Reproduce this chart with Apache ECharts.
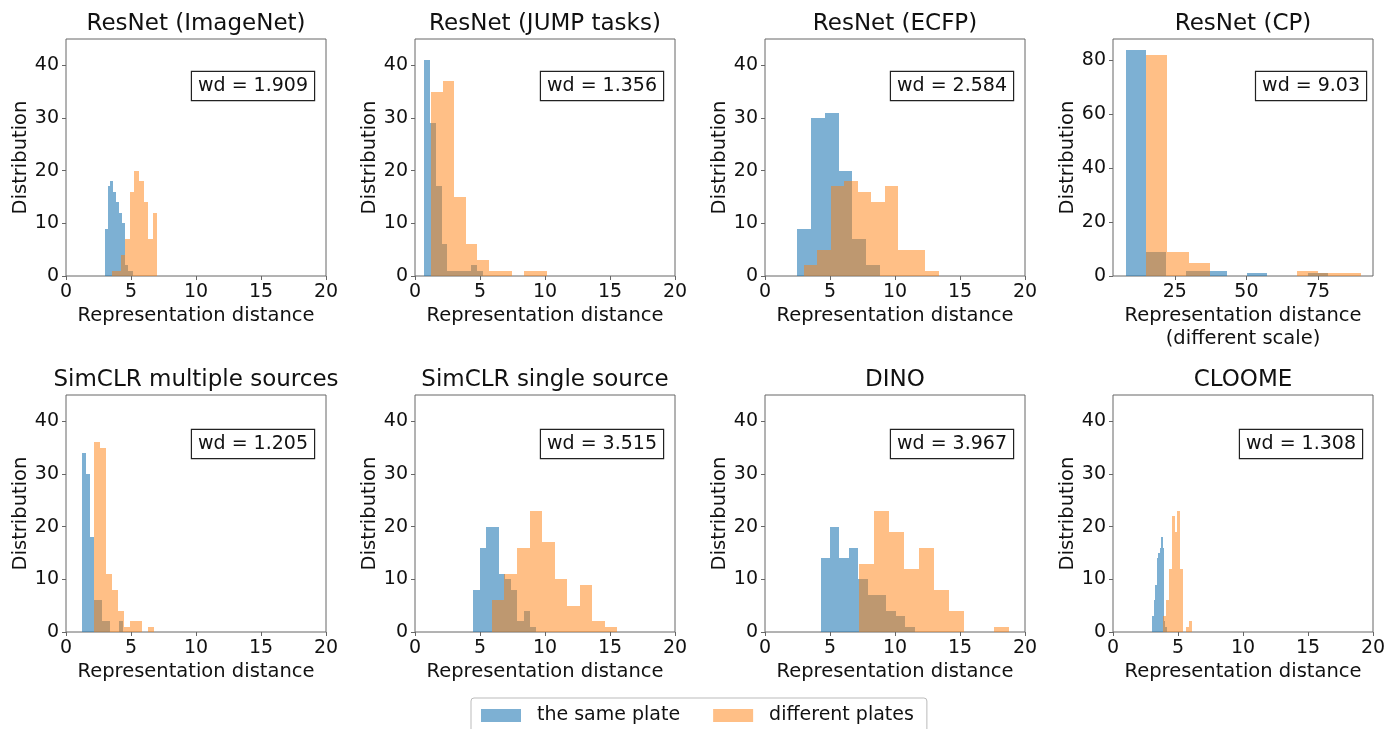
<!DOCTYPE html>
<html>
<head>
<meta charset="utf-8">
<script src="https://cdn.jsdelivr.net/npm/echarts@6/dist/echarts.min.js"></script>
<style>
  html, body { margin: 0; padding: 0; background: #fff; }
  #chart { width: 1386px; height: 729px; }
</style>
</head>
<body>
<div id="chart"></div>
<script>
// Histogram data: [first edge, last edge] and the counts of equal-width bins in between
const imagenetSameRange = [2.98, 5.18];
const imagenetSame = [9, 17, 18, 16, 14, 12, 10, 2, 1, 1];
const imagenetDiffRange = [3.51, 7.02];
const imagenetDiff = [1, 1, 4, 7, 16, 20, 18, 14, 7, 12];

const jumpSameRange = [0.69, 5.2];
const jumpSame = [41, 29, 17, 6, 1, 1, 1, 1, 2, 1];
const jumpDiffRange = [1.23, 10.13];
const jumpDiff = [35, 37, 15, 6, 3, 1, 1, 0, 1, 1];

const ecfpSameRange = [2.49, 8.85];
const ecfpSame = [9, 30, 31, 20, 7, 2];
const ecfpDiffRange = [3.0, 13.38];
const ecfpDiff = [2, 5, 17, 18, 16, 14, 17, 5, 5, 1];

const cpSameRange = [7.8, 78.5];
const cpSame = [84, 9, 0, 2, 2, 0, 1, 0, 0, 1];
const cpDiffRange = [14.8, 90.1];
const cpDiff = [82, 9, 5, 0, 0, 0, 0, 2, 1, 1];

const simclrMultiSameRange = [1.23, 4.36];
const simclrMultiSame = [34, 30, 18, 6, 6, 2, 2, 0, 0, 2];
const simclrMultiDiffRange = [2.13, 6.79];
const simclrMultiDiff = [36, 35, 11, 8, 4, 1, 2, 2, 0, 1];

const simclrSingleSameRange = [4.49, 9.33];
const simclrSingleSame = [8, 16, 20, 20, 11, 10, 8, 2, 4, 1];
const simclrSingleDiffRange = [5.92, 15.56];
const simclrSingleDiff = [6, 11, 16, 23, 17, 10, 5, 9, 2, 1];

const dinoSameRange = [4.28, 11.5];
const dinoSame = [14, 20, 14, 16, 10, 7, 7, 4, 3, 1];
const dinoDiffRange = [7.2, 18.77];
const dinoDiff = [13, 23, 19, 12, 16, 8, 4, 0, 0, 1];

const cloomeSameRange = [3.03, 4.15];
const cloomeSame = [3, 6, 9, 14, 15, 16, 18, 16, 2, 1];
const cloomeDiffRange = [3.82, 6.1];
const cloomeDiff = [3, 6, 12, 22, 19, 23, 12, 0, 1, 2];

const panelTitles = ['ResNet (ImageNet)', 'ResNet (JUMP tasks)', 'ResNet (ECFP)', 'ResNet (CP)',
  'SimCLR multiple sources', 'SimCLR single source', 'DINO', 'CLOOME'];
const wdLabels = ['wd = 1.909', 'wd = 1.356', 'wd = 2.584', 'wd = 9.03',
  'wd = 1.205', 'wd = 3.515', 'wd = 3.967', 'wd = 1.308'];
const distTicks = [0, 5, 10, 15, 20];
const cpDistTicks = [25, 50, 75];
const countTicks = [0, 10, 20, 30, 40];
const cpCountTicks = [0, 20, 40, 60, 80];
const legendNames = ['the same plate', 'different plates'];

const FONT = 'DejaVu Sans';
const SAME_COLOR = 'rgba(31,119,180,0.58)';
const DIFF_COLOR = 'rgba(255,127,14,0.5)';
const FRAME = '#666';

// grid layout (px)
const colLeft = [66, 415, 765, 1113];
const rowTop = [39, 395];
const plotW = 260;
const plotH = 237;

const panels = [
  { same: [imagenetSameRange, imagenetSame], diff: [imagenetDiffRange, imagenetDiff] },
  { same: [jumpSameRange, jumpSame], diff: [jumpDiffRange, jumpDiff] },
  { same: [ecfpSameRange, ecfpSame], diff: [ecfpDiffRange, ecfpDiff] },
  { same: [cpSameRange, cpSame], diff: [cpDiffRange, cpDiff], cp: true },
  { same: [simclrMultiSameRange, simclrMultiSame], diff: [simclrMultiDiffRange, simclrMultiDiff] },
  { same: [simclrSingleSameRange, simclrSingleSame], diff: [simclrSingleDiffRange, simclrSingleDiff] },
  { same: [dinoSameRange, dinoSame], diff: [dinoDiffRange, dinoDiff] },
  { same: [cloomeSameRange, cloomeSame], diff: [cloomeDiffRange, cloomeDiff] },
];

const toBins = (range, counts) => {
  const w = (range[1] - range[0]) / counts.length;
  return counts.map((c, i) => [range[0] + i * w, range[0] + (i + 1) * w, c]);
};

// snap bar edges to whole pixels so neighbouring bins don't leave seams
const renderBin = (params, api) => {
  const top = api.coord([api.value(0), api.value(2)]);
  const base = api.coord([api.value(1), 0]);
  const x0 = Math.round(top[0]), x1 = Math.round(base[0]);
  const y0 = Math.round(top[1]), y1 = Math.round(base[1]);
  return {
    type: 'rect',
    shape: { x: x0, y: y0, width: x1 - x0, height: y1 - y0 },
    style: { fill: api.visual('color') },
  };
};

const grids = [], xAxes = [], yAxes = [], series = [], graphics = [];

panels.forEach((p, i) => {
  const left = colLeft[i % 4];
  const top = rowTop[Math.floor(i / 4)];
  grids.push({
    left: left, top: top, width: plotW, height: plotH,
    show: true, borderColor: FRAME, borderWidth: 1, outerBoundsMode: 'none',
  });
  xAxes.push({
    gridIndex: i, type: 'value',
    min: p.cp ? 3.4 : 0, max: p.cp ? 94.2 : 20,
    axisLine: { show: false },
    axisTick: { show: true, length: 4, lineStyle: { color: FRAME }, customValues: p.cp ? cpDistTicks : distTicks },
    axisLabel: { color: '#111', fontSize: 19, fontFamily: FONT, margin: 7, customValues: p.cp ? cpDistTicks : distTicks },
    splitLine: { show: false },
    name: p.cp ? 'Representation distance\n(different scale)' : 'Representation distance',
    nameLocation: 'middle', nameGap: 28,
    nameTextStyle: { color: '#111', fontSize: 19.5, fontFamily: FONT, lineHeight: 23, verticalAlign: 'top' },
  });
  yAxes.push({
    gridIndex: i, type: 'value',
    min: 0, max: p.cp ? 88 : 45,
    axisLine: { show: false },
    axisTick: { show: true, length: 4, lineStyle: { color: FRAME }, customValues: p.cp ? cpCountTicks : countTicks },
    axisLabel: { color: '#111', fontSize: 19, fontFamily: FONT, margin: 7, customValues: p.cp ? cpCountTicks : countTicks },
    splitLine: { show: false },
    name: 'Distribution', nameLocation: 'middle', nameGap: 34, nameRotate: 90,
    nameTextStyle: { color: '#111', fontSize: 19.5, fontFamily: FONT },
  });
  series.push({
    type: 'custom', name: legendNames[0], xAxisIndex: i, yAxisIndex: i,
    renderItem: renderBin, encode: { x: [0, 1], y: 2 },
    data: toBins(p.same[0], p.same[1]),
    itemStyle: { color: SAME_COLOR }, silent: true,
  });
  series.push({
    type: 'custom', name: legendNames[1], xAxisIndex: i, yAxisIndex: i,
    renderItem: renderBin, encode: { x: [0, 1], y: 2 },
    data: toBins(p.diff[0], p.diff[1]),
    itemStyle: { color: DIFF_COLOR }, silent: true,
  });
  // panel title
  graphics.push({
    type: 'text', x: left + plotW / 2, y: top - 15,
    style: { text: panelTitles[i], fill: '#111', font: `23px "${FONT}"`, textAlign: 'center', textVerticalAlign: 'middle' },
  });
  // wd annotation box
  const gap = i === 3 ? 7 : (i === 7 ? 11 : 12);
  graphics.push({
    type: 'text', x: left + plotW - gap, y: top + (i < 4 ? 33 : 35),
    style: {
      text: wdLabels[i], fill: '#111', font: `19px "${FONT}"`,
      textAlign: 'right', textVerticalAlign: 'top',
      padding: [4, 6, 3, 6], lineHeight: 21,
      backgroundColor: '#fff', borderColor: '#222', borderWidth: 1.2,
    },
    z: 10,
  });
});

const chart = echarts.init(document.getElementById('chart'));
chart.setOption({
  animation: false,
  backgroundColor: '#fff',
  grid: grids,
  xAxis: xAxes,
  yAxis: yAxes,
  series: series,
  graphic: graphics,
  legend: {
    data: legendNames,
    left: 471, top: 698,
    icon: 'rect', itemWidth: 40, itemHeight: 13, itemGap: 33,
    padding: [8, 13, 14, 10],
    borderColor: '#bbb', borderWidth: 1, borderRadius: 3,
    textStyle: { color: '#111', fontSize: 19, fontFamily: FONT, padding: [0, 0, 0, 11] },
  },
});
</script>
</body>
</html>
